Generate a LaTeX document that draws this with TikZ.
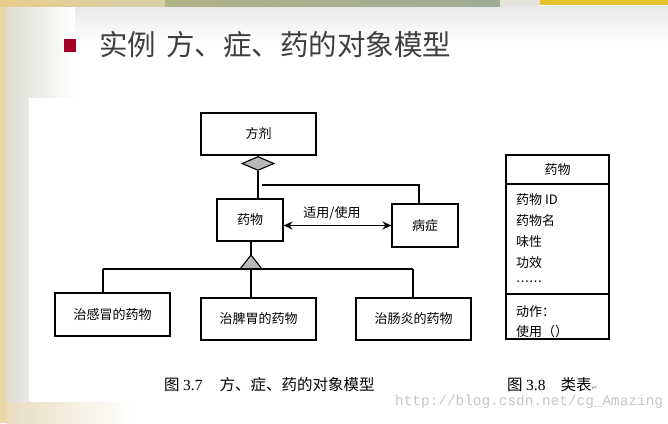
\documentclass[tikz,border=0pt]{standalone}
\usepackage{fontspec}
\setmainfont{Noto Sans CJK SC}
\newfontfamily\wmfont{Liberation Mono}
\newfontfamily\capnum{Liberation Serif}
\newfontfamily\dvfont{DejaVu Sans}
\usetikzlibrary{shapes.geometric,arrows.meta,calc}
\definecolor{titlered}{RGB}{165,0,38}
\definecolor{titlegray}{RGB}{62,62,62}
\definecolor{wmgray}{RGB}{198,198,198}
\definecolor{beige}{RGB}{234,214,166}
\definecolor{sidegray}{RGB}{222,220,212}
\definecolor{lowbeige}{RGB}{232,220,192}
\definecolor{topA}{RGB}{232,204,140}
\definecolor{topB}{RGB}{214,206,166}
\definecolor{topC}{RGB}{176,178,136}
\definecolor{topD}{RGB}{160,172,150}
\definecolor{topE}{RGB}{228,228,220}
\definecolor{topF}{RGB}{232,192,48}
\definecolor{markfill}{RGB}{184,184,184}
\tikzset{
  box/.style={draw=black, line width=1.1pt, fill=white, inner sep=0pt,
    font=\fontsize{13}{15}\selectfont},
  conn/.style={draw=black, line width=1.1pt},
  clstext/.style={anchor=west, inner sep=0pt, font=\fontsize{13}{15}\selectfont},
  captext/.style={anchor=west, inner sep=0pt, font=\fontsize{15.5}{17}\selectfont}
}
\begin{document}
\begin{tikzpicture}[x=1pt,y=-1pt]
\useasboundingbox (0,0) rectangle (668,423);
% background
\fill[white] (0,0) rectangle (668,423);
\shade[top color=gray!18, bottom color=white] (0,6) rectangle (668,42);
\shade[left color=sidegray, right color=white] (7,6) rectangle (75,423);
\shade[left color=lowbeige, right color=white] (7,402) rectangle (130,423);
\fill[beige] (0,0) rectangle (7,423);
\shade[left color=topA, right color=topB] (0,0) rectangle (165,6);
\shade[left color=topC, right color=topD] (165,0) rectangle (500,6);
\fill[topE] (500,0) rectangle (540,6);
\fill[topF] (540,0) rectangle (668,5);
% white panel
\fill[white] (29,98) rectangle (668,402);
% title
\fill[titlered] (64,39) rectangle (76,52);
\node[anchor=west, inner sep=0pt, text=titlegray, font=\fontsize{28.5}{30}\selectfont] (title) at (99,45) {实例\hspace{10pt}方、症、药的对象模型};
% boxes
\node[box, minimum width=115pt, minimum height=42pt] (fj) at (258.5,134) {方剂};
\node[box, minimum width=66pt, minimum height=42pt] (yw) at (250,220) {药物};
\node[box, minimum width=66pt, minimum height=43pt] (bz) at (425,225.5) {病症};
\node[box, minimum width=115pt, minimum height=43pt] (b1) at (112.5,314.5) {治感冒的药物};
\node[box, minimum width=115pt, minimum height=42pt] (b2) at (258.5,319) {治脾胃的药物};
\node[box, minimum width=115pt, minimum height=42pt] (b3) at (413.5,319) {治肠炎的药物};
% aggregation diamond
\node[diamond, draw=black, line width=1.1pt, fill=markfill, minimum width=32pt, minimum height=14pt, inner sep=0pt] (dia) at (258,163.5) {};
\draw[conn] (dia.south) -- (dia.south |- yw.north);
\coordinate (j1) at (262,185);
\coordinate (j2) at (419,185);
\draw[conn] (j1) -- (j2) -- (j2 |- bz.north);
% association arrow
\draw[black, line width=1.9pt, {Stealth[length=9pt,width=8pt]}-{Stealth[length=9pt,width=8pt]}] (bz.west -| yw.east) -- (bz.west);
\node[inner sep=0pt, font=\fontsize{13}{15}\selectfont] (lab) at (332,213) {适用/使用};
% generalization triangle
\coordinate (tri) at (251,255);
\draw[conn] (yw.south -| tri) -- (tri);
\draw[conn, fill=markfill] (tri) -- ++(-11,14) -- ++(22,0) -- cycle;
\coordinate (bus) at (251,269);
\coordinate (busL) at (103,269);
\coordinate (busR) at (413,269);
\draw[conn] (busL) -- (busR);
\draw[conn] (busL) -- (busL |- b1.north);
\draw[conn] (bus) -- (bus |- b2.north);
\draw[conn] (busR) -- (busR |- b3.north);
% class box
\node[draw=black, line width=1.1pt, minimum width=103pt, minimum height=184pt, inner sep=0pt] (cls) at (557.5,247) {};
\coordinate (d1) at (506,184);
\coordinate (d2) at (506,294);
\draw[conn] (d1) -- (d1 -| cls.east);
\draw[conn] (d2) -- (d2 -| cls.east);
\node[inner sep=0pt, font=\fontsize{13}{15}\selectfont] (ch) at (557.5,170) {药物};
\node[clstext] (c1) at (516,200) {药物 ID};
\node[clstext] (c2) at (516,221) {药物名};
\node[clstext] (c3) at (516,242) {味性};
\node[clstext] (c4) at (516,263) {功效};
\node[clstext, font=\dvfont\fontsize{13}{15}\selectfont] (c5) at (516,282) {……};
\node[clstext] (c6) at (516,312) {动作：};
\node[clstext] (c7) at (516,332) {使用（）};
% captions
\node[captext] (cap1) at (164,385) {图 {\capnum 3.7}\hspace{17pt}方、症、药的对象模型};
\node[captext] (cap2) at (507,385) {图 {\capnum 3.8}\hspace{15pt}类表{\dvfont\fontsize{7}{8}\selectfont\textcolor{gray}{↵}}};
% watermark
\node[anchor=west, inner sep=0pt, text=wmgray, font=\wmfont\fontsize{14.4}{16}\selectfont] (wm) at (395,402) {http://blog.csdn.net/cg\_Amazing};
\end{tikzpicture}
\end{document}
